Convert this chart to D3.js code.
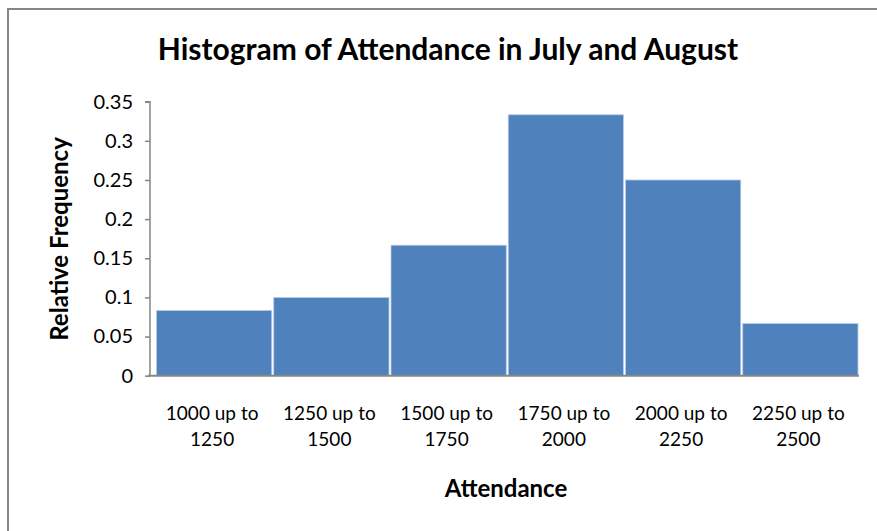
<!DOCTYPE html>
<html>
<head>
<meta charset="utf-8">
<script src="https://cdn.jsdelivr.net/npm/d3@7"></script>
<style>
  html, body { margin: 0; padding: 0; background: #fff; }
  svg { display: block; }
  text { font-family: Lato, "Open Sans", sans-serif; fill: #000; }
</style>
</head>
<body>
<svg id="chart" width="877" height="531"></svg>
<script>
const categories = [
  ["1000 up to", "1250"],
  ["1250 up to", "1500"],
  ["1500 up to", "1750"],
  ["1750 up to", "2000"],
  ["2000 up to", "2250"],
  ["2250 up to", "2500"]
];
const relFreq = [0.0833, 0.1, 0.1667, 0.3333, 0.25, 0.0667];
const yTicks = [0, 0.05, 0.1, 0.15, 0.2, 0.25, 0.3, 0.35];
const titleText = "Histogram of Attendance in July and August";
const xTitle = "Attendance";
const yTitle = "Relative Frequency";

const svg = d3.select("#chart");

// outer chart border (right and bottom are outside the picture)
svg.append("rect")
  .attr("x", 8).attr("y", 9)
  .attr("width", 900).attr("height", 600)
  .attr("fill", "#fff")
  .attr("stroke", "#868686").attr("stroke-width", 2);

const axisX = 150, plotRight = 859, plotTop = 101.7, plotBottom = 375.7;

const y = d3.scaleLinear().domain([0, 0.35]).range([plotBottom, plotTop]);
const x = d3.scaleBand().domain(d3.range(categories.length)).range([155.5, 859]).padding(0);

// bars
svg.append("g").selectAll("rect").data(relFreq).join("rect")
  .attr("x", (d, i) => x(i) + 1)
  .attr("y", d => y(d))
  .attr("width", x.bandwidth() - 2)
  .attr("height", d => y(0) - y(d))
  .attr("fill", "#4f81bd")
  .attr("stroke", "#b9cde5")
  .attr("stroke-width", 0.8);

// y axis
const yAxis = d3.axisLeft(y).tickValues(yTicks).tickSize(5).tickPadding(12)
  .tickFormat(d => String(+d.toFixed(2)));
const gy = svg.append("g").attr("transform", `translate(${axisX},0)`).call(yAxis);
gy.select(".domain").attr("stroke", "#868686").attr("stroke-width", 1.5)
  .attr("d", `M-5,${plotTop}H0V${plotBottom}`);
gy.selectAll(".tick line").attr("stroke", "#868686").attr("stroke-width", 1.5);
gy.selectAll(".tick text").attr("font-size", 20).attr("font-family", "Lato, sans-serif").attr("fill", "#000");

// x axis line
svg.append("line")
  .attr("x1", axisX - 2).attr("x2", plotRight)
  .attr("y1", plotBottom).attr("y2", plotBottom)
  .attr("stroke", "#868686").attr("stroke-width", 2);

// category labels
const cl = svg.append("g").selectAll("text").data(categories).join("text")
  .attr("text-anchor", "middle")
  .attr("font-size", 19)
  .attr("x", (d, i) => x(i) + x.bandwidth() / 2 - 2)
  .attr("y", 420);
cl.selectAll("tspan").data(d => d).join("tspan")
  .attr("x", function() { return d3.select(this.parentNode).attr("x"); })
  .attr("dy", (d, i) => i === 0 ? 0 : 26)
  .text(d => d);

// title
svg.append("text").attr("x", 448).attr("y", 60).attr("text-anchor", "middle")
  .attr("font-size", 30).attr("font-weight", "bold").text(titleText);

// x title
svg.append("text").attr("x", 506).attr("y", 497).attr("text-anchor", "middle")
  .attr("font-size", 24).attr("font-weight", "bold").text(xTitle);

// y title
svg.append("text").attr("transform", "translate(68,239) rotate(-90)").attr("text-anchor", "middle")
  .attr("font-size", 24).attr("font-weight", "bold").text(yTitle);
</script>
</body>
</html>
